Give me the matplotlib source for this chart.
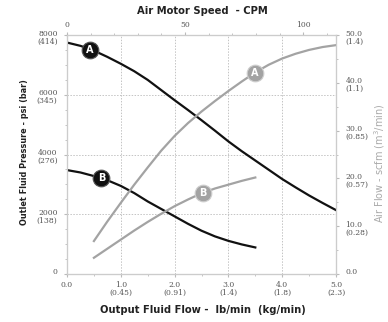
import matplotlib
matplotlib.use('Agg')
import matplotlib.pyplot as plt
import matplotlib.transforms as mtransforms

# output fluid flow, lb/min
flow_a = [0.0, 0.25, 0.5, 0.75, 1.0, 1.25, 1.5, 1.75, 2.0, 2.25, 2.5, 2.75,
          3.0, 3.25, 3.5, 3.75, 4.0, 4.25, 4.5, 4.75, 5.0]
pressure_a = [7750, 7640, 7480, 7270, 7040, 6790, 6500, 6160, 5820, 5490, 5150, 4800,
              4440, 4110, 3800, 3490, 3180, 2900, 2630, 2380, 2140]
flow_b = [0.0, 0.25, 0.5, 0.75, 1.0, 1.25, 1.5, 1.75, 2.0, 2.25, 2.5, 2.75,
          3.0, 3.25, 3.5]
pressure_b = [3480, 3400, 3280, 3140, 2950, 2710, 2430, 2180, 1930, 1680, 1450, 1260,
              1110, 990, 890]

air_flow_x_a = [0.5, 0.75, 1.0, 1.25, 1.5, 1.75, 2.0, 2.25, 2.5, 2.75, 3.0, 3.25,
                3.5, 3.75, 4.0, 4.25, 4.5, 4.75, 5.0]
air_a = [6.9, 11.0, 14.9, 18.7, 22.3, 25.8, 28.9, 31.6, 34.0, 36.2, 38.3, 40.3,
         42.2, 43.8, 45.1, 46.1, 46.9, 47.5, 47.9]
air_flow_x_b = [0.5, 0.75, 1.0, 1.25, 1.5, 1.75, 2.0, 2.25, 2.5, 2.75, 3.0, 3.25, 3.5]
air_b = [3.4, 5.3, 7.2, 9.1, 10.9, 12.6, 14.2, 15.6, 16.9, 17.9, 18.7, 19.5, 20.2]

# tick labels
x_ticks = [0, 1, 2, 3, 4, 5]
x_labels = ['0.0', '1.0\n(0.45)', '2.0\n(0.91)', '3.0\n(1.4)', '4.0\n(1.8)', '5.0\n(2.3)']
p_ticks = [0, 2000, 4000, 6000, 8000]
p_labels = ['0', '2000\n(138)', '4000\n(276)', '6000\n(345)', '8000\n(414)']
air_ticks = [0, 10, 20, 30, 40, 50]
air_labels = ['0.0', '10.0\n(0.28)', '20.0\n(0.57)', '30.0\n(0.85)', '40.0\n(1.1)', '50.0\n(1.4)']
cpm_ticks = [0, 50, 100]

# curve badges: (letter, x, y)
badges_pressure = [('A', 0.43, 7500), ('B', 0.64, 3200)]
badges_air = [('A', 3.49, 42.1), ('B', 2.53, 17.0)]

black = '#111111'
gray = '#a3a3a3'
label_col = '#555555'

fig = plt.figure(figsize=(3.88, 3.22), dpi=100)
ax = fig.add_axes([0.1727, 0.149, 0.6933, 0.742])
ax.set_xlim(0, 5)
ax.set_ylim(0, 8000)

ax2 = ax.twinx()
ax2.set_ylim(0, 50)
ax3 = ax.twiny()
ax3.set_xlim(0, 113.9)

for a in (ax, ax2, ax3):
    for s in a.spines.values():
        s.set_color('#cccccc')
        s.set_linewidth(0.8)
    a.tick_params(length=2, color='#bbbbbb', labelleft=False, labelright=False,
                  labelbottom=False, labeltop=False)

ax.set_xticks(x_ticks)
ax.set_yticks(p_ticks)
ax.set_xticks([0.5, 1.5, 2.5, 3.5, 4.5], minor=True)
ax.set_yticks(range(500, 8000, 500), minor=True)
ax.tick_params(which='minor', length=1.5, color='#bbbbbb')
ax2.set_yticks(air_ticks)
ax2.set_yticks(range(5, 50, 5), minor=True)
ax2.tick_params(which='minor', length=1.5, color='#bbbbbb')
ax3.set_xticks(cpm_ticks)
ax3.set_xticks(range(10, 114, 10), minor=True)
ax3.tick_params(which='minor', length=1.5, color='#bbbbbb')

ax.grid(True, which='major', linestyle=(0, (1.5, 1.5)), color='#c4c4c4', linewidth=0.7)
ax.set_axisbelow(True)

# tick labels, first line sits on the tick
fs = 5.5
up = mtransforms.offset_copy(ax.transData, fig=fig, x=0, y=4, units='points')
for v, t in zip(p_ticks, p_labels):
    tr = mtransforms.blended_transform_factory(ax.transAxes, up)
    ax.text(-0.035, v, t, transform=tr, ha='right', va='top', fontsize=fs,
            color=label_col, linespacing=1.0, family='DejaVu Serif')
up2 = mtransforms.offset_copy(ax2.transData, fig=fig, x=0, y=4, units='points')
for v, t in zip(air_ticks, air_labels):
    tr = mtransforms.blended_transform_factory(ax2.transAxes, up2)
    ax2.text(1.035, v, t, transform=tr, ha='left', va='top', fontsize=fs,
             color=label_col, linespacing=1.0, family='DejaVu Serif')
for v, t in zip(x_ticks, x_labels):
    tr = mtransforms.blended_transform_factory(ax.transData, ax.transAxes)
    ax.text(v, -0.03, t, transform=tr, ha='center', va='top', fontsize=fs,
            color=label_col, linespacing=1.0, family='DejaVu Serif')
for v in cpm_ticks:
    tr = mtransforms.blended_transform_factory(ax3.transData, ax3.transAxes)
    ax3.text(v, 1.025, str(v), transform=tr, ha='center', va='bottom', fontsize=fs,
             color=label_col, family='DejaVu Serif')

# curves
ax.plot(flow_a, pressure_a, color=black, lw=1.6, zorder=3, solid_joinstyle='round')
ax.plot(flow_b, pressure_b, color=black, lw=1.6, zorder=3, solid_joinstyle='round')
ax2.plot(air_flow_x_a, air_a, color=gray, lw=1.6, zorder=2, solid_joinstyle='round')
ax2.plot(air_flow_x_b, air_b, color=gray, lw=1.6, zorder=2, solid_joinstyle='round')

for letter, bx, by in badges_pressure:
    ax.plot(bx, by, 'o', ms=12, color=black, mec='#555555', mew=0.8, zorder=5)
    ax.text(bx, by, letter, ha='center', va='center', color='white',
            fontsize=7, fontweight='bold', zorder=6)
for letter, bx, by in badges_air:
    ax2.plot(bx, by, 'o', ms=12, color=gray, mec='#cfcfcf', mew=0.8, zorder=5)
    ax2.text(bx, by, letter, ha='center', va='center', color='white',
             fontsize=7, fontweight='bold', zorder=6)

# axis titles
fig.text(0.522, 0.966, 'Air Motor Speed  - CPM', ha='center', va='center',
         fontsize=7.2, fontweight='bold', color='#222222')
fig.text(0.524, 0.037, 'Output Fluid Flow -  lb/min  (kg/min)', ha='center', va='center',
         fontsize=7.2, fontweight='bold', color='#222222')
fig.text(0.064, 0.527, 'Outlet Fluid Pressure - psi (bar)', ha='center', va='center',
         rotation=90, fontsize=5.9, fontweight='bold', color='#222222')
fig.text(0.978, 0.494, 'Air Flow - scfm (m$^3$/min)', ha='center', va='center',
         rotation=90, fontsize=7, color='#aaaaaa')

fig.savefig('out.png', dpi=100, facecolor='white')
